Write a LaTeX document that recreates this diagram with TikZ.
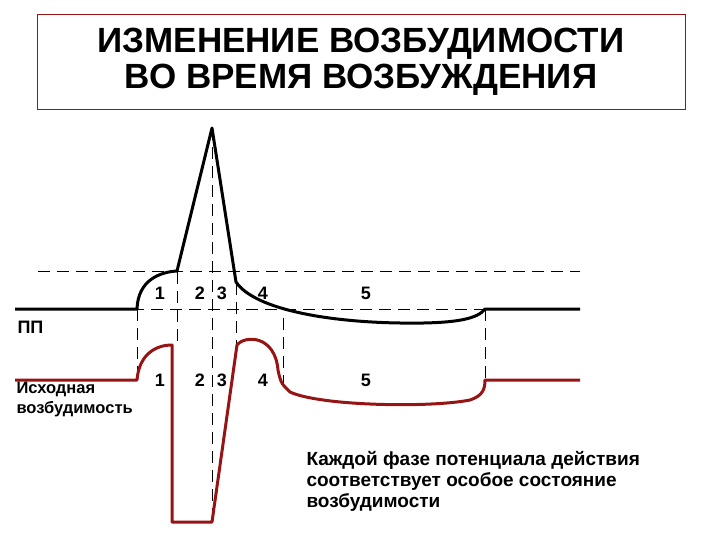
\documentclass[tikz,border=0pt]{standalone}
\usepackage{fontspec}
\setmainfont{Liberation Sans}
\begin{document}
\begin{tikzpicture}[x=1pt,y=-1pt,
  ap/.style={line width=3pt,black,line join=round},
  ex/.style={line width=3pt,color={rgb,255:red,150;green,20;blue,20},line join=round},
  dl/.style={dashed,dash pattern=on 12pt off 7pt,line width=1pt},
  num/.style={font=\bfseries\fontsize{18}{18}\selectfont},
  txt/.style={font=\bfseries\fontsize{19}{21}\selectfont,align=left,anchor=west}]
\useasboundingbox (0,0) rectangle (720,540);
\node[draw={rgb,255:red,150;green,20;blue,20},line width=0.6pt,minimum width=648pt,minimum height=95pt,font=\bfseries\fontsize{35}{36}\selectfont,align=center] (title) at (361,62) {ИЗМЕНЕНИЕ ВОЗБУДИМОСТИ\\ВО ВРЕМЯ ВОЗБУЖДЕНИЯ};
% dashed
\draw[dl] (38,271) -- (580,271);
\draw[dl] (18,309) -- (580,309);
\draw[dl] (137,309) -- (137,380);
\draw[dl] (177,272) -- (177,345);
\draw[dl] (212,128) -- (212,525);
\draw[dl] (236,283) -- (236,345);
\draw[dl] (283,318) -- (283,385);
\draw[dl] (485,309) -- (485,380);
% AP
\draw[ap] (15,309) -- (137,309) .. controls (138,280) and (160,272) .. (177,271) -- (212,128) -- (236,282)
  .. controls (255,310) and (330,322) .. (400,323) .. controls (460,324) and (478,318) .. (485,309) -- (580,309);
% excitability
\draw[ex] (15,380) -- (137,380) .. controls (139,355) and (155,345) .. (172,345) -- (172,522) -- (212,522) -- (237,345)
  .. controls (245,335) and (275,335) .. (278,370) .. controls (281,385) and (283,385) .. (290,392)
  .. controls (320,406) and (430,408) .. (470,400) .. controls (482,396) and (485,390) .. (485,380) -- (580,380);
% numbers
\foreach \y in {293,380}{
  \node[num] at (160,\y) {1}; \node[num] at (200,\y) {2}; \node[num] at (222,\y) {3};
  \node[num] at (263,\y) {4}; \node[num] at (366,\y) {5};}
\node[num,anchor=west] (pp) at (14,327) {ПП};
\node[txt,font=\bfseries\fontsize{16.5}{20}\selectfont] (ish) at (13,400) {Исходная\\возбудимость};
\node[txt] (note) at (303,481) {Каждой фазе потенциала действия\\соответствует особое состояние\\возбудимости};
\end{tikzpicture}
\end{document}
